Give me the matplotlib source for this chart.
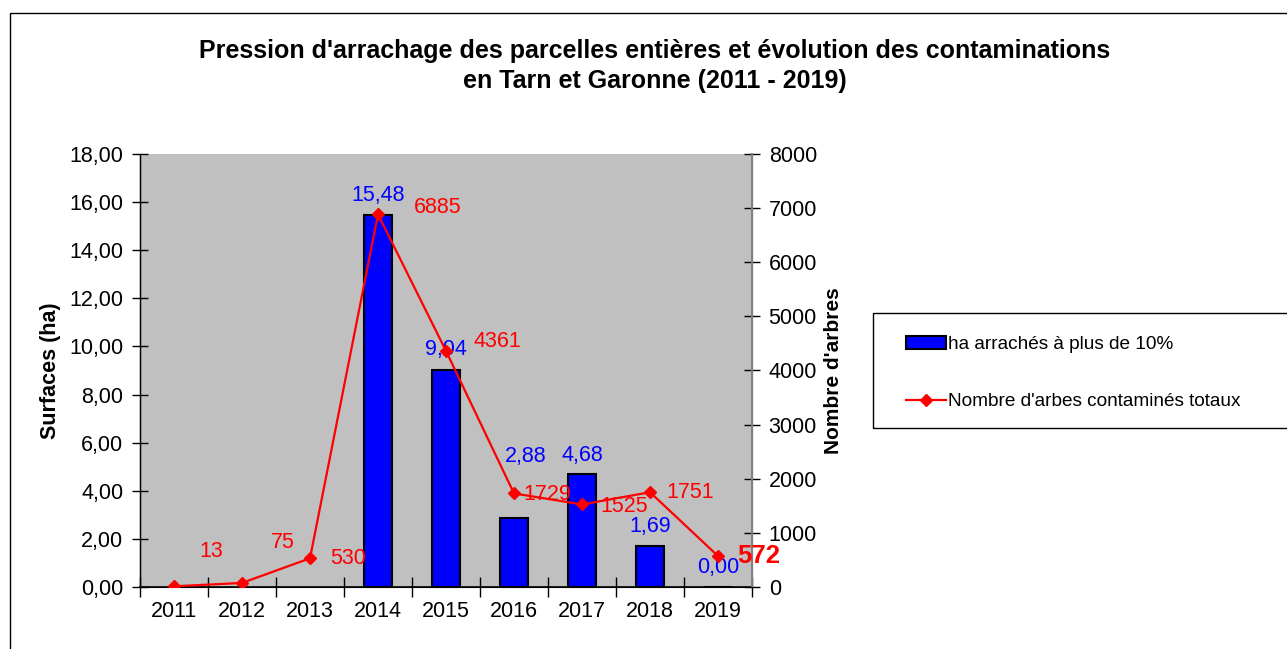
import matplotlib
matplotlib.use("Agg")
import matplotlib.pyplot as plt
from matplotlib.lines import Line2D
from matplotlib.patches import Patch, Rectangle
from matplotlib.ticker import FuncFormatter, MultipleLocator

plt.rcParams["font.family"] = ["Liberation Sans", "DejaVu Sans"]

years = ["2011", "2012", "2013", "2014", "2015", "2016", "2017", "2018", "2019"]
surfaces = [None, None, None, 15.48, 9.04, 2.88, 4.68, 1.69, 0.00]
arbres = [13, 75, 530, 6885, 4361, 1729, 1525, 1751, 572]

# label offsets in pixels (x, y) relative to the data point
bar_label_offsets = [None, None, None, (0, 19), (0, 20), (12, 61), (0, 19), (0, 20), (0, 20)]
line_label_offsets = [(37, 35), (41, 40), (38, 0), (60, 7), (51, 9), (33, -1), (42, -2), (40, 0), (41, 0)]

W, H = 1287, 649
fig = plt.figure(figsize=(W / 100, H / 100), dpi=100)

# outer chart frame (cut off at right and bottom)
fig.patches.append(Rectangle((10 / W, -0.1), 2.0, 1 - 13 / H + 0.1, transform=fig.transFigure,
                             fill=False, edgecolor="black", linewidth=1.0))

ax = fig.add_axes([140 / W, 1 - 587 / H, (752 - 140) / W, (587 - 154) / H])
ax.set_facecolor("#C0C0C0")
ax2 = ax.twinx()

x = list(range(len(years)))
bx = [i for i, v in enumerate(surfaces) if v is not None]
bv = [v for v in surfaces if v is not None]
ax.bar(bx, bv, width=0.42, color="#0000FF", edgecolor="black", linewidth=1.5, zorder=2)

for i, v in enumerate(surfaces):
    if v is None:
        continue
    dx, dy = bar_label_offsets[i]
    ax.annotate(f"{v:.2f}".replace(".", ","), (i, v), xytext=(dx, dy), textcoords="offset pixels",
                ha="center", va="center", color="#0000FF", fontsize=15.5, zorder=5)

ax2.plot(x, arbres, color="#FF0000", linewidth=1.6, marker="D", markersize=6, zorder=3)
for i, v in enumerate(arbres):
    dx, dy = line_label_offsets[i]
    last = i == len(arbres) - 1
    ax2.annotate(str(v), (i, v), xytext=(dx, dy), textcoords="offset pixels",
                 ha="center", va="center", color="#FF0000",
                 fontsize=18.5 if last else 15.5, fontweight="bold" if last else "normal")

ax.set_xlim(-0.5, len(years) - 0.5)
ax.set_ylim(0, 18)
ax2.set_ylim(0, 8000)
ax.yaxis.set_major_locator(MultipleLocator(2))
ax.yaxis.set_major_formatter(FuncFormatter(lambda v, p: f"{v:.2f}".replace(".", ",")))
ax2.yaxis.set_major_locator(MultipleLocator(1000))

ax.set_xticks([i - 0.5 for i in range(len(years) + 1)])
ax.set_xticklabels([])
ax.set_xticks(x, minor=True)
ax.set_xticklabels(years, minor=True)
ax.tick_params(axis="x", which="major", direction="inout", length=14, width=1)
ax.tick_params(axis="x", which="minor", length=0, labelsize=15.5, pad=10)
ax.tick_params(axis="y", direction="inout", length=12, width=1, labelsize=15.5, pad=6)
ax2.tick_params(axis="y", direction="inout", length=12, width=1, labelsize=15.5, pad=6)

for a in (ax, ax2):
    a.spines["top"].set_visible(False)
ax2.spines["right"].set_color("#808080")
ax2.spines["right"].set_linewidth(1.5)
ax.spines["left"].set_linewidth(1)
ax.spines["bottom"].set_linewidth(1.2)

ax.set_ylabel("Surfaces (ha)", fontsize=15.5, fontweight="bold", labelpad=6)
ax2.set_ylabel("Nombre d'arbres", fontsize=15, fontweight="bold", labelpad=5)

fig.text(655 / W, 1 - 66 / H, "Pression d'arrachage des parcelles entières et évolution des contaminations\n"
         "en Tarn et Garonne (2011 - 2019)", ha="center", va="center", fontsize=18,
         fontweight="bold", linespacing=1.3)

# legend box
fig.patches.append(Rectangle((873 / W, 1 - 428 / H), 0.5, (428 - 313) / H, transform=fig.transFigure,
                             fill=False, edgecolor="black", linewidth=1.0))
handles = [Patch(facecolor="#0000FF", edgecolor="black", linewidth=1.5),
           Line2D([0], [0], color="#FF0000", marker="D", markersize=6, linewidth=1.6)]
fig.legend(handles, ["ha arrachés à plus de 10%", "Nombre d'arbes contaminés totaux"],
           loc="upper left", bbox_to_anchor=(898 / W, 1 - 328 / H), frameon=False,
           fontsize=13.7, labelspacing=2.1, handlelength=2.1, handletextpad=0.15, borderaxespad=0)

fig.savefig("out.png", dpi=100)
